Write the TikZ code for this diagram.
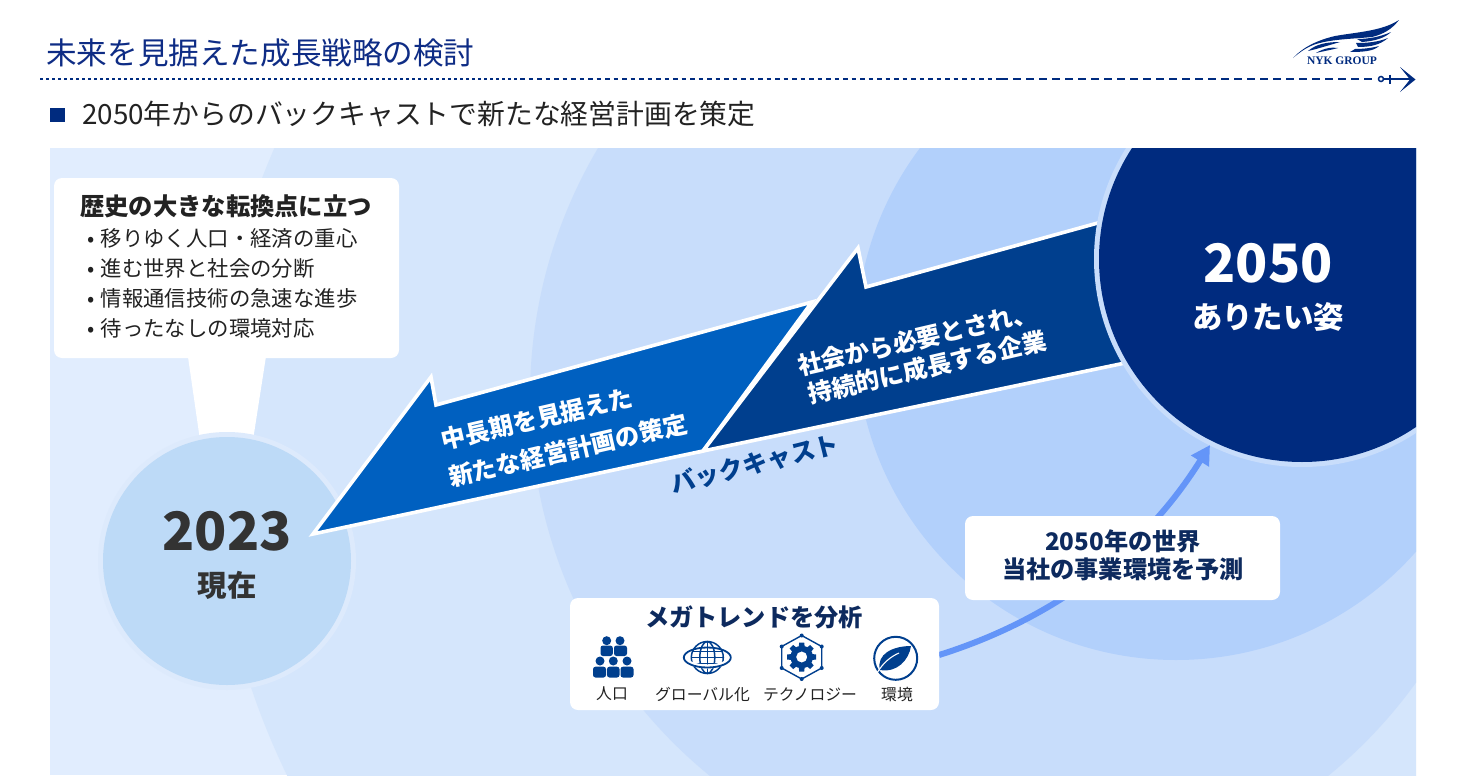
\documentclass[tikz,border=0pt]{standalone}
\usepackage{fontspec}
\usetikzlibrary{arrows.meta,shapes.geometric}
\setmainfont{Noto Sans CJK JP}
\newfontfamily\logofont{Liberation Serif}
\newcommand{\fsz}[1]{\fontsize{#1}{#1}\selectfont}
\definecolor{base}{HTML}{E1EDFE}
\definecolor{ringa}{HTML}{D5E6FC}
\definecolor{ringb}{HTML}{C8DDFB}
\definecolor{ringc}{HTML}{B2D0FB}
\definecolor{navy}{HTML}{002B7F}
\definecolor{titleblue}{HTML}{0E2C85}
\definecolor{iconblue}{HTML}{003F8E}
\definecolor{arrowa}{HTML}{0060C0}
\definecolor{arrowb}{HTML}{003F8E}
\definecolor{now}{HTML}{BDDAF7}
\definecolor{nowhalo}{HTML}{DDEAFC}
\definecolor{flow}{HTML}{6495F8}
\definecolor{ink}{HTML}{222222}
\definecolor{headink}{HTML}{0D2A5E}
\tikzset{
  whitebox/.style={rectangle,rounded corners=8pt,fill=white,inner sep=0pt},
  disc/.style={circle,inner sep=0pt},
  bullettext/.style={anchor=west,inner sep=0pt,text=ink,font=\fsz{21.4}},
  icontext/.style={inner sep=0pt,text=ink,font=\fsz{15.8}},
  arrowtext/.style={inner sep=0pt,text=white,font=\fsz{24.4}\bfseries,rotate=13},
  boxhead/.style={inner sep=0pt,text=headink,font=\fsz{24.2}\bfseries},
  iconline/.style={draw=iconblue,line width=1.5pt},
  bigyear/.style={inner sep=0pt,font=\fsz{53}\bfseries},
}
\begin{document}
\begin{tikzpicture}[x=1pt,y=-1pt]
\useasboundingbox (0,0) rectangle (1465,779);
\fill[white] (0,0) rectangle (1465,779);
% header
\node[anchor=west,inner sep=0pt,text=titleblue,font=\fsz{30.6}] (title) at (46,53) {未来を見据えた成長戦略の検討};
\draw[navy,line width=2.5pt,dash pattern=on 2.5pt off 3.5pt] (40,79) -- (520,79);
\draw[navy,line width=2.5pt,dash pattern=on 4.5pt off 4pt] (520,79) -- (1000,79);
\draw[navy,line width=2.5pt,dash pattern=on 8pt off 5pt] (1000,79) -- (1376,79);
\draw[navy,line width=1.5pt] (1381,79) circle[radius=2.5];
\draw[navy,line width=2pt] (1384,79) -- (1412,79);
\draw[navy,line width=1.5pt] (1390,74.5) -- (1390,83.5);
\fill[navy] (1400,67) -- (1415.5,79.5) -- (1400,92) -- (1410,79.5) -- cycle;
% logo
\fill[navy] (1293,58) .. controls (1303,47) and (1318,40) .. (1335,36)
  .. controls (1358,32) and (1382,31) .. (1399,20)
  .. controls (1392,29) and (1384,34) .. (1372,37)
  .. controls (1352,39) and (1333,39) .. (1316,44)
  .. controls (1307,47) and (1300,52) .. cycle;
\fill[navy] (1357,39) .. controls (1368,39) and (1380,37) .. (1391,32)
  .. controls (1385,38) and (1375,41) .. (1362,42) -- cycle;
\fill[navy] (1356,43) .. controls (1368,43) and (1378,42) .. (1388,38)
  .. controls (1380,45) and (1370,47) .. (1358,47) -- cycle;
\fill[navy] (1355,49) .. controls (1363,49) and (1372,48) .. (1379,46)
  .. controls (1374,51) and (1364,52) .. (1350,52) -- cycle;
\fill[navy] (1308,51) .. controls (1316,44) and (1327,42) .. (1340,42)
  .. controls (1330,45) and (1323,47) .. (1316,49)
  -- cycle;
\fill[navy] (1316,53) .. controls (1324,48) and (1332,47) .. (1338,48)
  .. controls (1331,50) and (1324,51) .. cycle;
\node[inner sep=0pt,text=navy,font=\logofont\bfseries\fsz{11.5}] (logotext) at (1342,61) {NYK GROUP};
% subtitle
\fill[navy] (50,108) rectangle (65,122);
\node[anchor=west,inner sep=0pt,text=ink,font=\fsz{27.8}] (subtitle) at (82,114.5) {2050年からのバックキャストで新たな経営計画を策定};
% panel
\begin{scope}
\clip (50,148) rectangle (1416,775);
\fill[base] (50,148) rectangle (1416,775);
\fill[ringa] (962,448) circle[radius=750];
\fill[ringb] (1019,397) circle[radius=489];
\fill[ringc] (1176,340) circle[radius=320];
\end{scope}
% callout and 2023 circle
\node[whitebox,minimum width=345pt,minimum height=180pt] (callout) at (226.5,268) {};
\fill[white] (187,350) -- (267,350) -- (253,440) -- (200,440) -- cycle;
\node[disc,fill=nowhalo,minimum size=258pt] (halo2023) at (227,561) {};
\node[disc,fill=now,minimum size=248pt] (c2023) at (227,561) {};
% arrows
\draw[white,line width=3.6pt,miter limit=10,fill=arrowa] (313,534) -- (431,377) -- (436,405) -- (812,302) -- (703,451) -- cycle;
\draw[white,line width=3.6pt,miter limit=10,fill=arrowb] (703,451) -- (858,248) -- (866,287) -- (1105,221) -- (1125,363) -- cycle;
% 2050 circle and flow arrow
\begin{scope}
\clip (50,148) rectangle (1416,775);
\node[disc,fill=ringb,minimum size=416pt] (halo2050) at (1302,259) {};
\node[disc,fill=navy,minimum size=406pt] (c2050) at (1302,259) {};
\coordinate (flowstart) at (939,655);
\coordinate (flowend) at (1210,445);
\draw[flow,line width=6pt,-{Triangle[length=19pt,width=20pt]}] (flowstart) .. controls (1035,625) and (1135,565) .. (flowend);
\end{scope}
% callout text
\node[inner sep=0pt,text=ink,font=\fsz{24.3}\bfseries] (calloutHead) at (226,206) {歴史の大きな転換点に立つ};
\node[bullettext] (b1) at (87,238) {\makebox[13.5pt][l]{•}移りゆく人口・経済の重心};
\node[bullettext] (b2) at (87,268) {\makebox[13.5pt][l]{•}進む世界と社会の分断};
\node[bullettext] (b3) at (87,298) {\makebox[13.5pt][l]{•}情報通信技術の急速な進歩};
\node[bullettext] (b4) at (87,328) {\makebox[13.5pt][l]{•}待ったなしの環境対応};
% circles text
\node[bigyear,text=black!80] (y2023) at (227,531) {2023};
\node[inner sep=0pt,text=black!80,font=\fsz{29.5}\bfseries] (now) at (227,585) {現在};
\node[bigyear,text=white] (y2050) at (1268,263) {2050};
\node[inner sep=0pt,text=white,font=\fsz{30.4}\bfseries] (goal) at (1268,317) {ありたい姿};
% arrow text
\node[arrowtext] (a1) at (537,419) {中長期を見据えた};
\node[arrowtext] (a2) at (568,450) {新たな経営計画の策定};
\node[arrowtext] (a3) at (917,339) {社会から必要とされ、};
\node[arrowtext] (a4) at (927,367) {持続的に成長する企業};
\node[inner sep=0pt,text=arrowb,font=\fsz{24.6}\bfseries,rotate=14] (bc) at (755,464) {バックキャスト};
% boxes
\node[whitebox,minimum width=315pt,minimum height=84pt] (forecast) at (1122.5,558) {};
\node[boxhead] (f1) at (1123,541) {2050年の世界};
\node[boxhead] (f2) at (1123,569) {当社の事業環境を予測};
\node[whitebox,minimum width=369pt,minimum height=112pt] (trend) at (754.5,654) {};
\node[boxhead] (t1) at (754,617) {メガトレンドを分析};
% people
\fill[iconblue] (606.7,640.7) circle[radius=4.5] (620,640.7) circle[radius=4.5];
\fill[iconblue,rounded corners=2.5pt] (600.5,656) -- (600.5,645.5) -- (612.8,645.5) -- (612.8,656) -- cycle;
\fill[iconblue,rounded corners=2.5pt] (614,656) -- (614,645.5) -- (627,645.5) -- (627,656) -- cycle;
\fill[iconblue] (600,661) circle[radius=4.5] (613.3,661) circle[radius=4.5] (627,661) circle[radius=4.5];
\fill[iconblue,rounded corners=2.5pt] (593,677.5) -- (593,666.7) -- (606,666.7) -- (606,677.5) -- cycle;
\fill[iconblue,rounded corners=2.5pt] (607,677.5) -- (607,666.7) -- (619.5,666.7) -- (619.5,677.5) -- cycle;
\fill[iconblue,rounded corners=2.5pt] (620.5,677.5) -- (620.5,666.7) -- (633.5,666.7) -- (633.5,677.5) -- cycle;
\node[icontext] (l1) at (612,694) {人口};
% globe
\begin{scope}[shift={(707.3,657.5)}]
\draw[iconline] (0,0) circle[radius=16];
\draw[iconline] (0,0) ellipse[x radius=7.5,y radius=16];
\draw[iconline] (0,-16) -- (0,16);
\draw[iconline] (-15,-6) -- (15,-6) (-16,0) -- (16,0) (-15,6) -- (15,6);
\draw[white,line width=4pt] (-21,3) .. controls (-12,11) and (12,11) .. (21,3);
\draw[iconline,line width=1.8pt] (0,0) ellipse[x radius=23.5,y radius=10];
\end{scope}
\node[icontext] (l2) at (702.5,694) {グローバル化};
% tech
\begin{scope}[shift={(801.7,657)}]
\draw[iconline,line width=1.4pt] (0,-21.5) -- (20,-10.5) -- (20,11) -- (0,22) -- (-20,11) -- (-20,-10.5) -- cycle;
\foreach \p in {(0,-21.5),(20,-10.5),(20,11),(0,22),(-20,11),(-20,-10.5)} \fill[iconblue] \p circle[radius=2];
\fill[white] (0,0) circle[radius=17.5];
\foreach \a in {0,45,...,315} \fill[iconblue,rotate=\a] (-3,-10) -- (-2.5,-14.5) -- (2.5,-14.5) -- (3,-10) -- cycle;
\fill[iconblue,even odd rule] (0,0) circle[radius=11.3] (0,0) circle[radius=5.6];
\end{scope}
\node[icontext] (l3) at (810,694) {テクノロジー};
% leaf
\draw[iconblue,line width=2pt] (895.7,658.3) circle[radius=21.5];
\fill[iconblue] (880,670) .. controls (876,654) and (893,646) .. (911,646) .. controls (909,660) and (897,673) .. (880,670) -- cycle;
\draw[white,line width=1.1pt] (877,673) .. controls (883,663) and (890,657) .. (899,653);
\node[icontext] (l4) at (897,694) {環境};
\end{tikzpicture}
\end{document}
